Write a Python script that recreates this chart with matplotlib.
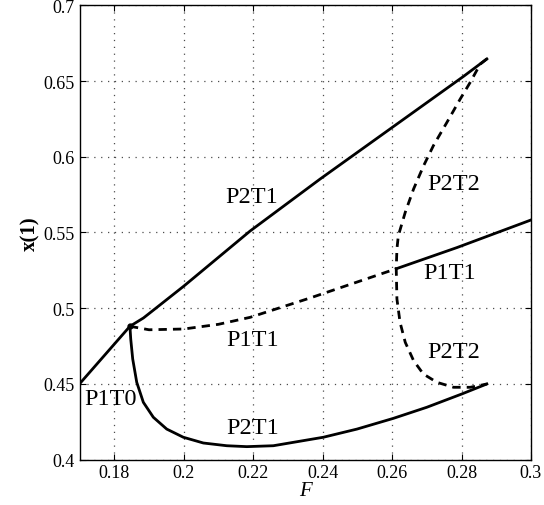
import numpy as np
from matplotlib import pyplot as plt
from matplotlib.ticker import FuncFormatter

plt.rcParams['font.family'] = ['Liberation Serif', 'DejaVu Serif']

# P1T0 (solido) y rama superior P2T1 (solido)
p1t0_F = [0.170, 0.1845]
p1t0_x = [0.450, 0.4880]

p2t1_up_F = [0.1845, 0.1884, 0.192, 0.200, 0.2191, 0.2393, 0.2594, 0.2806, 0.2873]
p2t1_up_x = [0.4880, 0.4935, 0.5000, 0.5145, 0.5509, 0.5853, 0.6183, 0.6531, 0.6646]

# rama inferior P2T1 (solido)
p2t1_lo_F = [0.1845, 0.18473, 0.1853, 0.18646, 0.18836, 0.19124, 0.1951, 0.19988,
             0.20565, 0.2124, 0.21816, 0.2258, 0.2402, 0.2499, 0.2604, 0.2700,
             0.2801, 0.2873]
p2t1_lo_x = [0.4880, 0.4796, 0.4664, 0.4510, 0.4378, 0.4279, 0.4201, 0.4147,
             0.4109, 0.4091, 0.4085, 0.4091, 0.4147, 0.4201, 0.4272, 0.4345,
             0.4433, 0.4499]

# P1T1 inestable (trazos) y estable (solido)
p1t1_d_F = [0.1845, 0.190, 0.200, 0.210, 0.2191, 0.2364, 0.2612]
p1t1_d_x = [0.4880, 0.4857, 0.4862, 0.4893, 0.4939, 0.5067, 0.5260]
p1t1_s_F = [0.2612, 0.2787, 0.300]
p1t1_s_x = [0.5260, 0.5400, 0.5582]

# P2T2 (trazos)
p2t2_F = [0.2873, 0.2854, 0.2825, 0.2796, 0.2758, 0.2719, 0.2691, 0.2662, 0.2638,
          0.2618, 0.2614, 0.2612, 0.2614, 0.2623, 0.2638, 0.2662, 0.2690, 0.2729,
          0.2777, 0.2825, 0.2863, 0.2873]
p2t2_x = [0.6646, 0.6612, 0.6491, 0.6380, 0.6227, 0.6073, 0.5941, 0.5787, 0.5633,
          0.5478, 0.5390, 0.5260, 0.5060, 0.4906, 0.4774, 0.4653, 0.4565, 0.4510,
          0.4477, 0.4477, 0.4494, 0.4499]

labels   = ['P2T1', 'P2T2', 'P1T1', 'P1T1', 'P2T2', 'P2T1', 'P1T0']
labels_F = [0.2195, 0.2777, 0.2767, 0.2197, 0.2777, 0.2198, 0.1788]
labels_x = [0.5740, 0.5820, 0.5232, 0.4796, 0.4713, 0.4211, 0.4406]

fig = plt.figure(figsize=(5.44, 5.06), dpi=100)
ax = fig.add_axes([0.1463, 0.0899, 0.8297, 0.8976])

lw = 2.0
ax.plot(p1t0_F, p1t0_x, 'k-', lw=lw, marker='o', ms=3.5, markevery=[-1])
ax.plot(p2t1_up_F, p2t1_up_x, 'k-', lw=lw)
ax.plot(p2t1_lo_F, p2t1_lo_x, 'k-', lw=lw)
ax.plot(p1t1_d_F, p1t1_d_x, 'k--', lw=lw, dashes=(3, 2.2))
ax.plot(p1t1_s_F, p1t1_s_x, 'k-', lw=lw)
ax.plot(p2t2_F, p2t2_x, 'k--', lw=lw, dashes=(3, 2.2))

for s, f, x in zip(labels, labels_F, labels_x):
    ax.text(f, x, s, fontsize=17.5, ha='center', va='center')

ax.set_xlim(0.17, 0.3)
ax.set_ylim(0.4, 0.7)
ax.set_xticks(np.arange(0.18, 0.301, 0.02))
ax.set_yticks(np.arange(0.4, 0.701, 0.05))
fmt = FuncFormatter(lambda v, p: '%g' % round(v, 3))
ax.xaxis.set_major_formatter(fmt)
ax.yaxis.set_major_formatter(fmt)
ax.tick_params(direction='in', top=True, right=True, labelsize=13, length=4)
ax.grid(True, linestyle=(0, (1, 4.5)), color='0.3', lw=0.9)
for sp in ax.spines.values():
    sp.set_linewidth(1.0)

ax.set_xlabel('F', fontsize=15, fontstyle='italic', labelpad=0)
ax.set_ylabel('x(1)', fontsize=15, fontweight='bold', labelpad=2)

plt.savefig('out.png', dpi=100)
